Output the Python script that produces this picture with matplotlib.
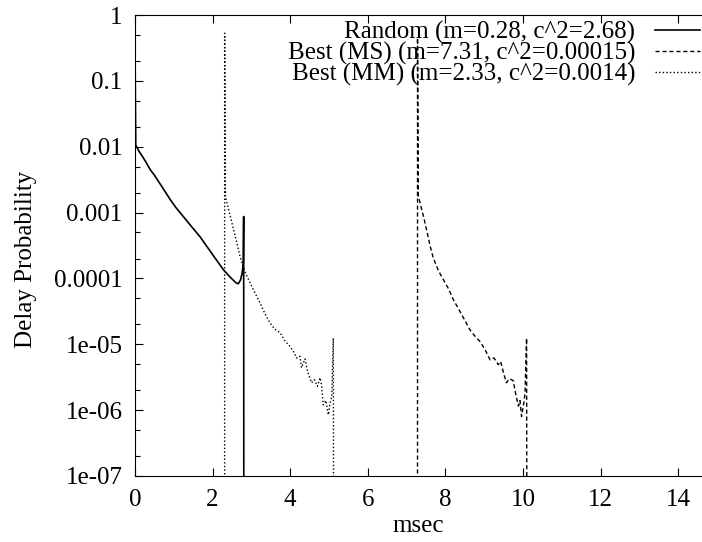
import matplotlib
matplotlib.use("Agg")
import matplotlib.pyplot as plt
from matplotlib.ticker import LogLocator, NullFormatter

# Random (solid)
rand_x = [0.0, 0.0, 0.02, 0.1, 0.2, 0.3, 0.39, 0.5, 0.6, 0.75, 0.9, 1.05,
          1.245, 1.45, 1.675, 2.0, 2.28, 2.45, 2.6, 2.66, 2.72, 2.76, 2.79,
          2.8, 2.805]
rand_y = [1e-9, 0.3, 0.0105, 8.6e-3, 7.0e-3, 5.6e-3, 4.5e-3, 3.7e-3, 3.0e-3,
          2.2e-3, 1.6e-3, 1.2e-3, 8.7e-4, 6.2e-4, 4.3e-4, 2.3e-4, 1.35e-4,
          1.05e-4, 8.6e-5, 8.3e-5, 9.5e-5, 1.2e-4, 1.7e-4, 8.7e-4, 1e-9]

# Best (MS) (dashed)
ms_x = [7.28, 7.28, 7.30, 7.45, 7.6, 7.68, 7.82, 7.95, 8.07, 8.2, 8.38, 8.5,
        8.63, 8.75, 8.89, 9.02, 9.15, 9.25, 9.36, 9.42, 9.5, 9.57, 9.65, 9.75,
        9.79, 9.88, 9.92, 9.96, 10.02, 10.05, 10.09, 10.10]
ms_y = [1e-9, 0.45, 1.8e-3, 8e-4, 3.2e-4, 2.1e-4, 1.3e-4, 9.5e-5, 7.1e-5,
        4.8e-5, 3.1e-5, 2.3e-5, 1.66e-5, 1.35e-5, 1.1e-5, 8.3e-6, 5.8e-6,
        6.2e-6, 4.9e-6, 5.5e-6, 3.6e-6, 2.6e-6, 3.0e-6, 2.8e-6, 2.0e-6,
        1.15e-6, 1.4e-6, 8e-7, 1.3e-6, 1.8e-6, 1.24e-5, 1e-9]

# Best (MM) (dotted)
mm_x = [2.31, 2.31, 2.33, 2.45, 2.6, 2.71, 2.85, 3.01, 3.2, 3.35, 3.48, 3.6,
        3.74, 3.85, 3.99, 4.1, 4.16, 4.25, 4.29, 4.38, 4.45, 4.55, 4.62, 4.7,
        4.77, 4.81, 4.85, 4.92, 4.98, 5.03, 5.07, 5.11, 5.12]
mm_y = [1e-9, 0.53, 1.75e-3, 9e-4, 4e-4, 2.1e-4, 1.2e-4, 7.5e-5, 4.5e-5,
        2.9e-5, 2.1e-5, 1.7e-5, 1.5e-5, 1.15e-5, 9.3e-6, 7.5e-6, 6.2e-6,
        6.6e-6, 4.4e-6, 6e-6, 3.8e-6, 2.6e-6, 2.9e-6, 2.3e-6, 3.1e-6, 2.3e-6,
        1.2e-6, 1.4e-6, 8.5e-7, 1.3e-6, 1.6e-6, 1.24e-5, 1e-9]

labels = ["Random (m=0.28, c^2=2.68)",
          "Best (MS) (m=7.31, c^2=0.00015)",
          "Best (MM) (m=2.33, c^2=0.0014)"]

xticks = [0, 2, 4, 6, 8, 10, 12, 14]
yticks = [1, 0.1, 0.01, 0.001, 0.0001, 1e-5, 1e-6, 1e-7]
ytick_labels = ["1", "0.1", "0.01", "0.001", "0.0001", "1e-05", "1e-06", "1e-07"]

plt.rcParams["font.family"] = ["Liberation Serif", "DejaVu Serif"]
plt.rcParams["font.size"] = 18

fig = plt.figure(figsize=(7.02, 5.42), dpi=100)
ax = fig.add_axes([135 / 702, 66 / 542, 567 / 702, 461 / 542])

ax.plot(rand_x, rand_y, color="black", lw=1.2, label=labels[0])
ax.plot(ms_x, ms_y, color="black", lw=1.0, dashes=(3, 2), label=labels[1])
ax.plot(mm_x, mm_y, color="black", lw=1.0, dashes=(1, 1.6), label=labels[2])

ax.set_yscale("log")
ax.set_xlim(0, 14.61)
ax.set_ylim(1e-7, 1)
ax.set_xticks(xticks)
ax.set_yticks(yticks)
ax.set_yticklabels(ytick_labels)
ax.yaxis.set_minor_locator(LogLocator(base=10, subs=(2, 5)))
ax.yaxis.set_minor_formatter(NullFormatter())

ax.spines["right"].set_visible(False)
ax.tick_params(which="both", direction="in", top=True, right=False, width=0.8)
ax.tick_params(which="major", length=6)
ax.tick_params(which="minor", length=3.5)
ax.tick_params(axis="x", pad=9)
ax.tick_params(axis="y", pad=9)

ax.set_xlabel("msec")
ax.set_ylabel("Delay Probability")
ax.yaxis.set_label_coords(-0.173, 0.47)
ax.xaxis.set_label_coords(0.5, -0.085)

ax.legend(loc="upper right", bbox_to_anchor=(700 / 702, 1 - 21 / 542),
          bbox_transform=fig.transFigure, frameon=False, markerfirst=False,
          borderpad=0, borderaxespad=0, handlelength=1.8, handletextpad=0.8,
          labelspacing=-0.09)

fig.savefig("out.png", dpi=100)
